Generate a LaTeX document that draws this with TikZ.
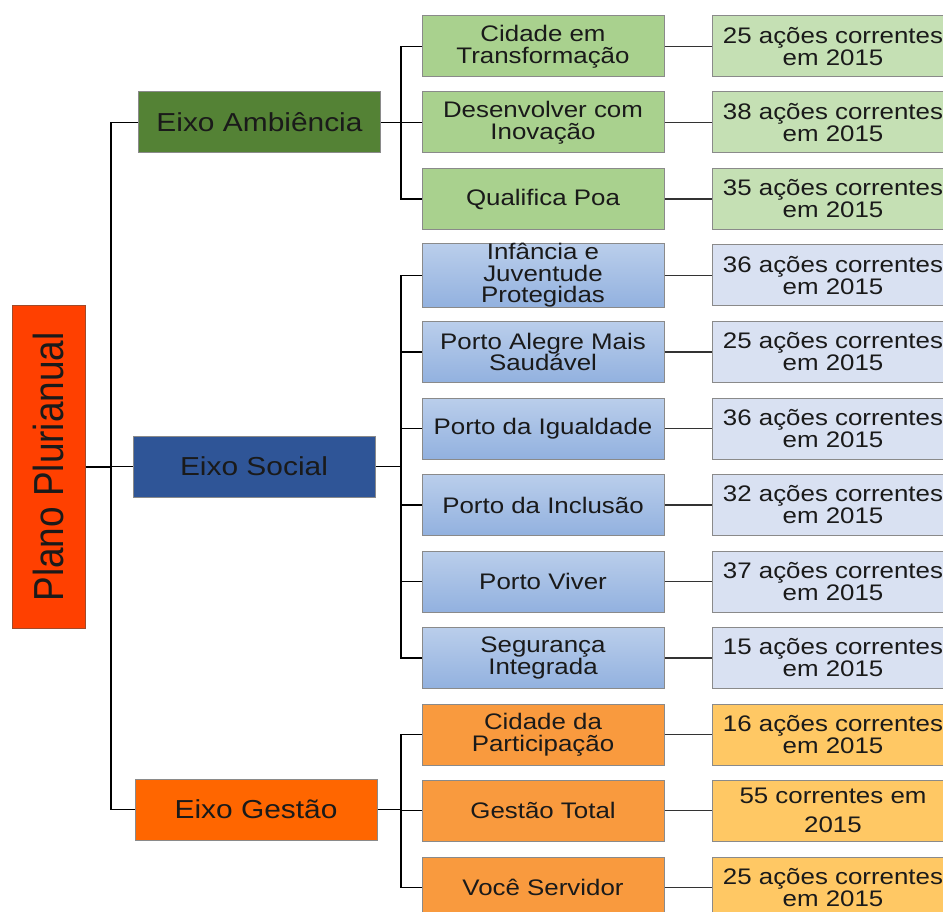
\documentclass[tikz,border=0pt]{standalone}
\usepackage{fontspec}
\setmainfont{Liberation Sans}[FakeStretch=1.15]
\newfontfamily\rootfont{Liberation Sans}[FakeStretch=0.88]
\definecolor{rootc}{HTML}{FF4000}
\definecolor{rootb}{HTML}{A04A2A}
\definecolor{ambc}{HTML}{548235}
\definecolor{socc}{HTML}{2F5597}
\definecolor{gesc}{HTML}{FF6600}
\definecolor{gchild}{HTML}{A9D18E}
\definecolor{gright}{HTML}{C5E0B4}
\definecolor{btop}{HTML}{BACEEB}
\definecolor{bbot}{HTML}{92B1DF}
\definecolor{bright}{HTML}{D9E1F2}
\definecolor{ochild}{HTML}{F99A3E}
\definecolor{oright}{HTML}{FFC864}
\definecolor{bordc}{HTML}{8A8A8A}
\definecolor{txt}{HTML}{1A1A1A}
\tikzset{
  box/.style={rectangle, draw=bordc, line width=1pt, minimum width=242pt, minimum height=61pt, inner sep=0pt, align=center, text=txt},
  eixo/.style={box, font=\fontsize{26}{24}\selectfont},
  child/.style={box, font=\fontsize{22.5}{21.5}\selectfont},
  right/.style={box, font=\fontsize{22.5}{22}\selectfont},
  gch/.style={child, fill=gchild},
  gri/.style={right, fill=gright},
  bch/.style={child, top color=btop, bottom color=bbot},
  bri/.style={right, fill=bright},
  och/.style={child, fill=ochild},
  ori/.style={right, fill=oright},
  conn/.style={draw=black, line width=1.5pt},
  conn2/.style={draw=black!80, line width=1.3pt}
}
\begin{document}
\begin{tikzpicture}[x=1pt,y=-1pt]
\useasboundingbox (0,0) rectangle (943,912);
\clip (0,0) rectangle (943,912);
\fill[white] (0,0) rectangle (943,912);
% root
\node[rectangle, draw=rootb, line width=1pt, fill=rootc, minimum width=73pt, minimum height=322pt, inner sep=0pt] (root) at (48.5,467) {};
\node[rotate=90, font=\rootfont\fontsize{42}{42}\selectfont, text=txt] (roottxt) at (root.center) {Plano Plurianual};
% axes
\node[eixo, fill=ambc] (amb) at (259.5,122.5) {Eixo Ambiência};
\node[eixo, fill=socc] (soc) at (254,466.5) {Eixo Social};
\node[eixo, fill=gesc] (ges) at (256,809.5) {Eixo Gestão};
% children
\node[gch] (c1) at (543,46.5) {Cidade em\\Transformação};
\node[gch] (c2) at (543,122.5) {Desenvolver com\\Inovação};
\node[gch] (c3) at (543,199) {Qualifica Poa};
\node[bch] (c4) at (543,275.5) {Infância e\\Juventude\\Protegidas};
\node[bch] (c5) at (543,352) {Porto Alegre Mais\\Saudável};
\node[bch] (c6) at (543,428.5) {Porto da Igualdade};
\node[bch] (c7) at (543,505) {Porto da Inclusão};
\node[bch] (c8) at (543,581.5) {Porto Viver};
\node[bch] (c9) at (543,658) {Segurança\\Integrada};
\node[och] (c10) at (543,734.5) {Cidade da\\Participação};
\node[och] (c11) at (543,810.5) {Gestão Total};
\node[och] (c12) at (543,887.5) {Você Servidor};
% right boxes
\node[gri] (r1) at (833,46.5) {25 ações correntes\\em 2015};
\node[gri] (r2) at (833,122.5) {38 ações correntes\\em 2015};
\node[gri] (r3) at (833,199) {35 ações correntes\\em 2015};
\node[bri] (r4) at (833,275.5) {36 ações correntes\\em 2015};
\node[bri] (r5) at (833,352) {25 ações correntes\\em 2015};
\node[bri] (r6) at (833,428.5) {36 ações correntes\\em 2015};
\node[bri] (r7) at (833,505) {32 ações correntes\\em 2015};
\node[bri] (r8) at (833,581.5) {37 ações correntes\\em 2015};
\node[bri] (r9) at (833,658) {15 ações correntes\\em 2015};
\node[ori] (r10) at (833,734.5) {16 ações correntes\\em 2015};
\node[ori] (r11) at (833,810.5) {55 correntes em\\[7pt]2015};
\node[ori] (r12) at (833,887.5) {25 ações correntes\\em 2015};
% trunk
\coordinate (t) at (111,0);
\coordinate (b) at (401,0);
\draw[conn] (root.east) -- (root.east -| t);
\draw[conn] (amb.west) -- (amb.west -| t) -- (ges.west -| t) -- (ges.west);
\draw[conn] (soc.west) -- (soc.west -| t);
% branches
\draw[conn] (amb.east) -- (amb.east -| b);
\draw[conn] (c1.west) -- (c1.west -| b) -- (c3.west -| b) -- (c3.west);
\draw[conn] (c2.west) -- (c2.west -| b);
\draw[conn] (soc.east) -- (soc.east -| b);
\draw[conn] (c4.west) -- (c4.west -| b) -- (c9.west -| b) -- (c9.west);
\foreach \i in {5,6,7,8} {\draw[conn] (c\i.west) -- (c\i.west -| b);}
\draw[conn] (ges.east) -- (ges.east -| b);
\draw[conn] (c10.west) -- (c10.west -| b) -- (c12.west -| b) -- (c12.west);
\draw[conn] (c11.west) -- (c11.west -| b);
% child to right
\foreach \i in {1,...,12} {\draw[conn2] (c\i.east) -- (r\i.west);}
\end{tikzpicture}
\end{document}
